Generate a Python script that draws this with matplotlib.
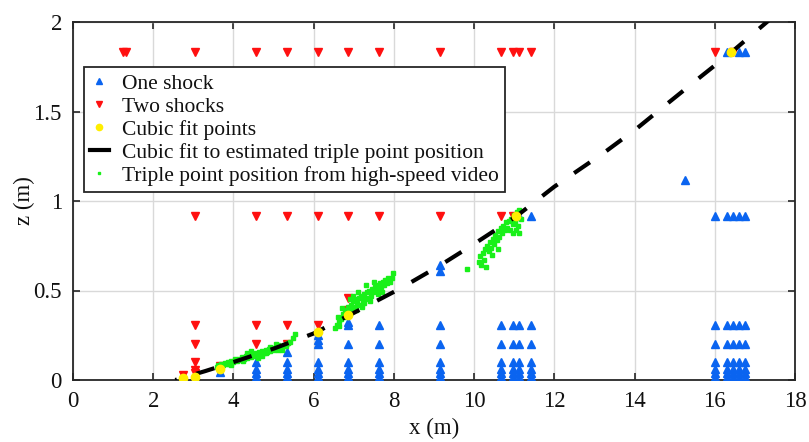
import numpy as np
import matplotlib
matplotlib.use("Agg")
import matplotlib.pyplot as plt
from matplotlib.lines import Line2D

plt.rcParams['font.family'] = ['Liberation Serif', 'DejaVu Serif']

# ---------------- data ----------------
gauge_levels = [0.305, 0.203, 0.102, 0.061, 0.040, 0.015]
full_blue_cols = [7.62, 9.14, 10.67, 10.97, 11.13, 11.43, 16.0, 16.31, 16.46, 16.61, 16.76]

# extra one-shock points (x, z)
blue_extra_x = [3.66, 4.57, 4.57, 4.57, 4.57, 5.33, 5.33, 5.33, 5.33, 5.33,
                6.10, 6.10, 6.10, 6.10, 6.10, 6.10, 6.10,
                6.86, 6.86, 6.86, 6.86, 6.86, 6.86, 6.86,
                9.14, 9.14, 15.26,
                11.13, 11.43, 16.0, 16.31, 16.46, 16.61, 16.76,
                16.31, 16.61, 16.76]
blue_extra_z = [0.045, 0.102, 0.061, 0.040, 0.015, 0.158, 0.102, 0.061, 0.040, 0.015,
                0.250, 0.225, 0.203, 0.102, 0.061, 0.040, 0.015,
                0.326, 0.305, 0.203, 0.102, 0.061, 0.040, 0.015,
                0.610, 0.640, 1.117,
                0.914, 0.914, 0.914, 0.914, 0.914, 0.914, 0.914,
                1.83, 1.83, 1.83]

# two-shock points
red_x = [2.74, 3.05, 3.05, 3.05, 3.05, 3.05, 3.66,
         4.57, 4.57, 5.33, 5.33, 6.10, 6.86, 6.86,
         3.05, 4.57, 5.33, 6.10, 6.86, 7.62, 9.14, 10.67, 10.97,
         1.25, 1.33, 3.05, 4.57, 5.33, 6.10, 6.86, 7.62, 9.14, 10.67, 10.97, 11.13, 11.43,
         16.0, 16.46]
red_z = [0.028, 0.305, 0.203, 0.102, 0.056, 0.038, 0.076,
         0.305, 0.203, 0.305, 0.203, 0.305, 0.458, 0.390,
         0.914, 0.914, 0.914, 0.914, 0.914, 0.914, 0.914, 0.914, 0.914,
         1.83, 1.83, 1.83, 1.83, 1.83, 1.83, 1.83, 1.83, 1.83, 1.83, 1.83, 1.83, 1.83,
         1.83, 1.83]

# cubic fit points
fit_x = [2.74, 3.05, 3.66, 6.10, 6.86, 11.05, 16.41]
fit_z = [0.010, 0.018, 0.062, 0.268, 0.365, 0.914, 1.83]

# cubic fit curve
curve_x = [2.55, 3.3, 4.0, 5.0, 6.0, 7.0, 8.15, 9.15, 10.0, 11.05, 12.0, 13.27, 14.06, 14.85, 15.68, 16.41, 17.3, 17.6]
curve_z = [0.0, 0.05, 0.10, 0.175, 0.26, 0.375, 0.51, 0.64, 0.76, 0.914, 1.08, 1.275, 1.406, 1.55, 1.70, 1.83, 2.0, 2.06]

# triple point positions from high-speed video
tp_x = [3.58, 3.62, 3.66, 3.70, 3.74, 3.78, 3.82, 3.86, 3.90, 3.95, 4.00, 4.05, 4.10, 4.14, 4.18,
        4.22, 4.27, 4.31, 4.35, 4.40, 4.44, 4.48, 4.52, 4.56, 4.60, 4.64, 4.68, 4.72, 4.76, 4.80,
        4.84, 4.88, 4.92, 4.96, 5.00, 5.05, 5.10, 5.15, 5.20, 5.25, 5.30, 5.36, 5.42, 5.48, 5.54,
        4.45, 4.70, 4.90, 4.25, 5.05, 3.95, 4.60, 4.82, 5.12, 4.35, 5.22,
        6.53, 6.58, 6.62, 6.60, 6.68, 6.72, 6.75, 6.78, 6.82, 6.85, 6.88, 6.92, 6.95, 6.98, 7.02,
        7.05, 7.08, 7.12, 7.15, 7.18, 7.22, 7.25, 7.28, 7.32, 7.35, 7.38, 7.42, 7.45, 7.48, 7.52,
        7.55, 7.58, 7.62, 7.65, 7.68, 7.72, 7.75, 7.78, 7.82, 7.85, 7.90, 7.95, 7.99, 7.05, 7.20,
        6.90, 7.40, 7.60, 7.30, 6.70, 7.10, 7.50, 7.70, 6.98, 7.26, 6.64,
        9.82, 10.12, 10.15, 10.18, 10.22, 10.25, 10.28, 10.30, 10.33, 10.36, 10.40, 10.43, 10.46,
        10.50, 10.53, 10.56, 10.60, 10.63, 10.66, 10.70, 10.73, 10.76, 10.80, 10.83, 10.86, 10.90,
        10.93, 10.96, 11.00, 11.03, 11.06, 11.10, 11.13, 11.16, 11.12, 11.05, 10.98, 10.60, 10.45]
tp_z = [0.070, 0.085, 0.078, 0.090, 0.082, 0.095, 0.088, 0.101, 0.092, 0.108, 0.098, 0.115, 0.105, 0.120, 0.112,
        0.126, 0.118, 0.133, 0.124, 0.140, 0.128, 0.145, 0.135, 0.152, 0.140, 0.158, 0.146, 0.162, 0.150, 0.168,
        0.155, 0.172, 0.160, 0.178, 0.165, 0.182, 0.170, 0.190, 0.178, 0.196, 0.188, 0.205, 0.215, 0.235, 0.255,
        0.160, 0.135, 0.185, 0.105, 0.200, 0.085, 0.125, 0.150, 0.195, 0.150, 0.165,
        0.29, 0.31, 0.33, 0.35, 0.34, 0.37, 0.35, 0.39, 0.37, 0.41, 0.39, 0.42, 0.40, 0.44, 0.41,
        0.45, 0.43, 0.46, 0.42, 0.47, 0.44, 0.48, 0.45, 0.49, 0.46, 0.50, 0.47, 0.51, 0.49, 0.52,
        0.50, 0.53, 0.51, 0.54, 0.52, 0.55, 0.53, 0.56, 0.54, 0.57, 0.55, 0.57, 0.60, 0.39, 0.41,
        0.45, 0.44, 0.48, 0.53, 0.40, 0.49, 0.55, 0.49, 0.47, 0.43, 0.30,
        0.62, 0.66, 0.69, 0.64, 0.71, 0.67, 0.73, 0.63, 0.75, 0.72, 0.77, 0.74, 0.79,
        0.76, 0.81, 0.78, 0.83, 0.80, 0.85, 0.82, 0.86, 0.84, 0.88, 0.85, 0.89, 0.84,
        0.90, 0.87, 0.92, 0.88, 0.94, 0.86, 0.95, 0.90, 0.82, 0.84, 0.82, 0.73, 0.70]

x_ticks = [0, 2, 4, 6, 8, 10, 12, 14, 16, 18]
z_ticks = [0, 0.5, 1, 1.5, 2]
z_ticklabels = ['0', '0.5', '1', '1.5', '2']

# --------------- plotting ---------------
blue_x = [c for c in full_blue_cols for _ in gauge_levels] + blue_extra_x
blue_z = [lv for _ in full_blue_cols for lv in gauge_levels] + blue_extra_z

fig = plt.figure(figsize=(8.09, 4.42), dpi=100)
ax = fig.add_axes([73/809, 62/442, 722/809, 358/442])

BLUE = '#0a64f0'
RED = '#ff1010'
YEL = '#ffee00'
GRN = '#19f019'

h1, = ax.plot(blue_x, blue_z, ls='none', marker='^', ms=6, color=BLUE, mec=BLUE, zorder=3)
h2, = ax.plot(red_x, red_z, ls='none', marker='v', ms=6, color=RED, mec=RED, zorder=3)
h5, = ax.plot(tp_x, tp_z, ls='none', marker='s', ms=2.5, color=GRN, mec=GRN, zorder=4)
h4, = ax.plot(curve_x, curve_z, color='black', lw=3.0, ls=(4.2, (4.6, 4.8)), zorder=5)
h3, = ax.plot(fit_x, fit_z, ls='none', marker='o', ms=6, color=YEL, mec=YEL, zorder=6)

ax.set_xlim(0, 18)
ax.set_ylim(0, 2)
ax.set_xticks(x_ticks)
ax.set_yticks(z_ticks)
ax.set_yticklabels(z_ticklabels)
ax.grid(True, color='#d9d9d9', lw=1.0)
ax.set_axisbelow(True)
ax.tick_params(direction='in', length=5, width=1.2, top=True, right=True,
               labelsize=16.5, pad=8, colors='#262626', labelcolor='#111111')
for s in ax.spines.values():
    s.set_linewidth(1.3)
    s.set_color('#262626')

ax.set_xlabel('x (m)', fontsize=16.5, labelpad=4, color='#111111')
ax.set_ylabel('z (m)', fontsize=16.5, color='#111111')
ax.yaxis.set_label_coords(-0.052, 0.5)

lh4 = Line2D([], [], color='black', lw=3.0)
leg = ax.legend([h1, h2, h3, lh4, h5],
                ['One shock', 'Two shocks', 'Cubic fit points',
                 'Cubic fit to estimated triple point position',
                 'Triple point position from high-speed video'],
                loc='upper left', bbox_to_anchor=(0.015, 0.874), borderaxespad=0,
                fontsize=15.5, fancybox=False, framealpha=1, edgecolor='#262626',
                handlelength=0.85, handletextpad=0.6, labelspacing=0.14,
                borderpad=0.3, markerscale=0.75)
leg.get_frame().set_linewidth(1.3)
for t in leg.get_texts():
    t.set_color('#111111')

fig.savefig('out.png', dpi=100)
